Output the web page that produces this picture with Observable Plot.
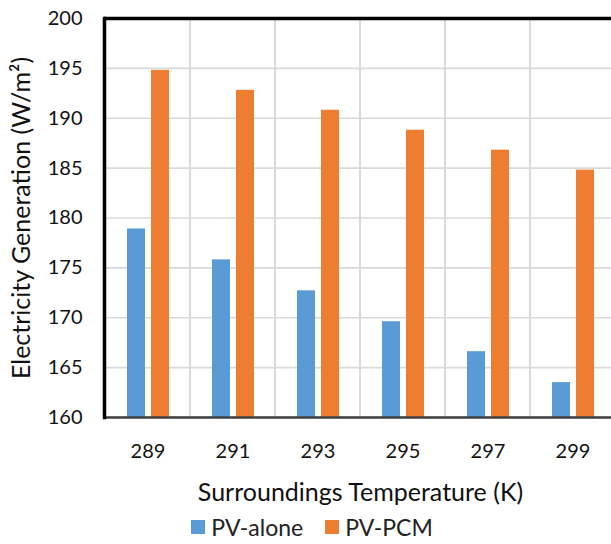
<!DOCTYPE html>
<html><head><meta charset="utf-8">
<script src="https://cdn.jsdelivr.net/npm/d3@7"></script>
<script src="https://cdn.jsdelivr.net/npm/@observablehq/plot@0.6"></script>
<style>
html,body{margin:0;padding:0;background:#fff;overflow:hidden;width:611px;height:544px;}
#chart{width:611px;overflow:hidden;height:505px;}
#chart svg{max-width:none !important;width:616px !important;height:505px !important;}
.legend{display:flex;justify-content:center;align-items:center;gap:22px;font-family:Lato,"Open Sans",sans-serif;font-size:23px;line-height:28px;color:#222;margin-top:8px;padding-left:13px;}
.legend span{display:inline-flex;align-items:center;}
.legend i{display:inline-block;width:14px;height:14px;margin-right:6px;}
</style></head>
<body>
<div id="chart"></div>
<script>
const temperatures = ["289","291","293","295","297","299"];
const pvAlone = [178.9, 175.8, 172.7, 169.6, 166.6, 163.5];
const pvPCM = [194.8, 192.8, 190.8, 188.8, 186.8, 184.8];
const seriesNames = ["PV-alone","PV-PCM"];
const seriesColors = ["#5B9BD5","#ED7D31"];
const yDomain = [160, 200];
const yTicks = [160,165,170,175,180,185,190,195,200];

const alone = temperatures.map((t,i)=>({t, v: pvAlone[i], s: seriesNames[0]}));
const pcm = temperatures.map((t,i)=>({t, v: pvPCM[i], s: seriesNames[1]}));

const chart = Plot.plot({
  width: 616, height: 505,
  marginLeft: 104, marginRight: 0, marginTop: 18, marginBottom: 88,
  style: {fontFamily: "Lato, 'Open Sans', sans-serif", fontSize: "20px", color: "#111", background: "#fff"},
  x: {domain: temperatures, padding: 0},
  y: {domain: yDomain},
  color: {domain: seriesNames, range: seriesColors},
  marks: [
    Plot.gridY(yTicks, {stroke: "#d9d9d9", strokeOpacity: 1, strokeWidth: 1.6}),
    Plot.cell(temperatures, {x: d => d, fill: "none", stroke: "#d9d9d9", strokeWidth: 1.6}),
    Plot.barY(alone, {x: "t", y1: yDomain[0], y2: "v", fill: "s", insetLeft: 22, insetRight: 45}),
    Plot.barY(pcm, {x: "t", y1: yDomain[0], y2: "v", fill: "s", insetLeft: 46, insetRight: 21}),
    Plot.ruleY([yDomain[0]], {stroke: "#404040", strokeWidth: 2.5}),
    Plot.ruleY([yDomain[1]], {stroke: "#000", strokeWidth: 3.5}),
    Plot.frame({anchor: "left", stroke: "#000", strokeWidth: 3.5}),
    Plot.axisY(yTicks, {tickSize: 0, tickPadding: 22, label: "Electricity Generation (W/m²)", labelAnchor: "center", labelArrow: "none", labelOffset: 92, fontSize: 20}),
    Plot.axisX({tickSize: 0, tickPadding: 26, label: "Surroundings Temperature (K)", labelAnchor: "center", labelArrow: "none", labelOffset: 83, fontSize: 20})
  ]
});
document.getElementById("chart").appendChild(chart);
chart.querySelectorAll('g[aria-label$="axis label"]').forEach(g => {
  g.setAttribute("font-size", "25");
  g.style.fontSize = "25px";
  g.querySelectorAll("text").forEach(t => { t.style.fontSize = "25px"; });
});

const leg = document.createElement("div");
leg.className = "legend";
seriesNames.forEach((n,i)=>{
  const s = document.createElement("span");
  s.innerHTML = `<i style="background:${seriesColors[i]}"></i>${n}`;
  leg.appendChild(s);
});
document.body.appendChild(leg);
</script>
</body></html>
